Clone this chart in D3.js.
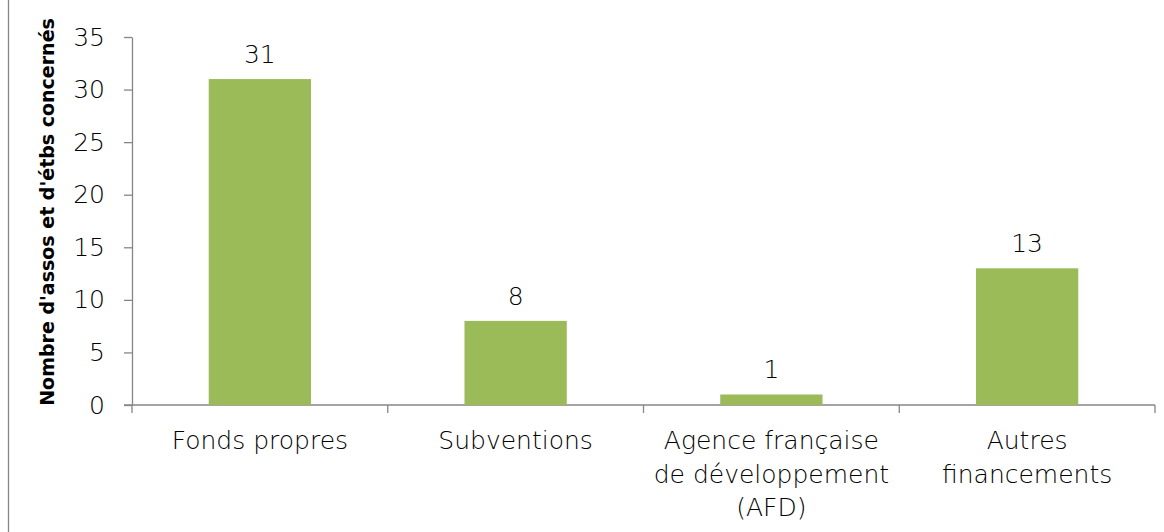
<!DOCTYPE html>
<html>
<head>
<meta charset="utf-8">
<script src="https://d3js.org/d3.v7.min.js"></script>
<style>
    body { margin: 0; background: white; }
    .lbl { font-family: "Century Gothic", "DejaVu Sans", sans-serif; fill: #000; font-weight: 200; }
    .axis path, .axis line { stroke: #868686; stroke-width: 1.3px; }
</style>
</head>
<body>
<svg id="chart" width="1164" height="532"></svg>
<script>
    let categories = [["Fonds propres"], ["Subventions"], ["Agence française", "de développement", "(AFD)"], ["Autres", "financements"]];
    let values = [31, 8, 1, 13];
    let yTicks = [0, 5, 10, 15, 20, 25, 30, 35];
    let yTitle = "Nombre d'assos et d'étbs concernés";

    let svg = d3.select("#chart");
    let mLeft = 132, mRight = 1155, mTop = 37, mBottom = 405;

    // frame line on the left
    svg.append("line")
        .attr("x1", 8.5).attr("x2", 8.5)
        .attr("y1", 0).attr("y2", 532)
        .attr("stroke", "#868686").attr("stroke-width", 1.3);

    let x = d3.scaleBand()
        .domain(d3.range(categories.length))
        .range([mLeft, mRight])
        .paddingInner(0.6)
        .paddingOuter(0.3);

    let y = d3.scaleLinear().domain([0, 35]).range([mBottom, mTop]);

    // y axis
    let yAxis = svg.append("g")
        .attr("class", "axis")
        .attr("transform", "translate(" + mLeft + ",0)")
        .call(d3.axisLeft(y).tickValues(yTicks).tickSize(8).tickPadding(19).tickSizeOuter(0));
    yAxis.selectAll("text")
        .attr("class", "lbl")
        .style("font-size", "25px");

    // x axis with ticks between categories
    let step = x.step();
    let xb = svg.append("g").attr("class", "axis");
    xb.append("line")
        .attr("x1", mLeft - 8).attr("x2", mRight)
        .attr("y1", mBottom).attr("y2", mBottom);
    xb.selectAll(".xt")
        .data(d3.range(categories.length + 1))
        .enter().append("line")
        .attr("x1", function(d){ return mLeft + d * step; })
        .attr("x2", function(d){ return mLeft + d * step; })
        .attr("y1", mBottom).attr("y2", mBottom + 8);

    // bars
    svg.selectAll("rect.bar")
        .data(values)
        .enter().append("rect")
        .attr("class", "bar")
        .attr("x", function(d, i){ return x(i); })
        .attr("width", x.bandwidth())
        .attr("y", function(d){ return y(d); })
        .attr("height", function(d){ return y(0) - y(d); })
        .attr("fill", "#9bbb59");

    // value labels
    svg.selectAll("text.val")
        .data(values)
        .enter().append("text")
        .attr("class", "lbl val")
        .attr("x", function(d, i){ return x(i) + x.bandwidth() / 2; })
        .attr("y", function(d){ return y(d) - 16; })
        .attr("text-anchor", "middle")
        .style("font-size", "25px")
        .text(function(d){ return d; });

    // category labels
    categories.forEach(function(lines, i){
        let t = svg.append("text")
            .attr("class", "lbl")
            .attr("text-anchor", "middle")
            .style("font-size", "25px");
        lines.forEach(function(s, j){
            t.append("tspan")
                .attr("x", x(i) + x.bandwidth() / 2)
                .attr("y", 449 + j * 33.5)
                .text(s);
        });
    });

    // y title
    svg.append("text")
        .attr("class", "lbl")
        .attr("transform", "translate(54,212) rotate(-90)")
        .attr("text-anchor", "middle")
        .style("font-size", "19px")
        .style("font-weight", "bold")
        .text(yTitle);
</script>
</body>
</html>
